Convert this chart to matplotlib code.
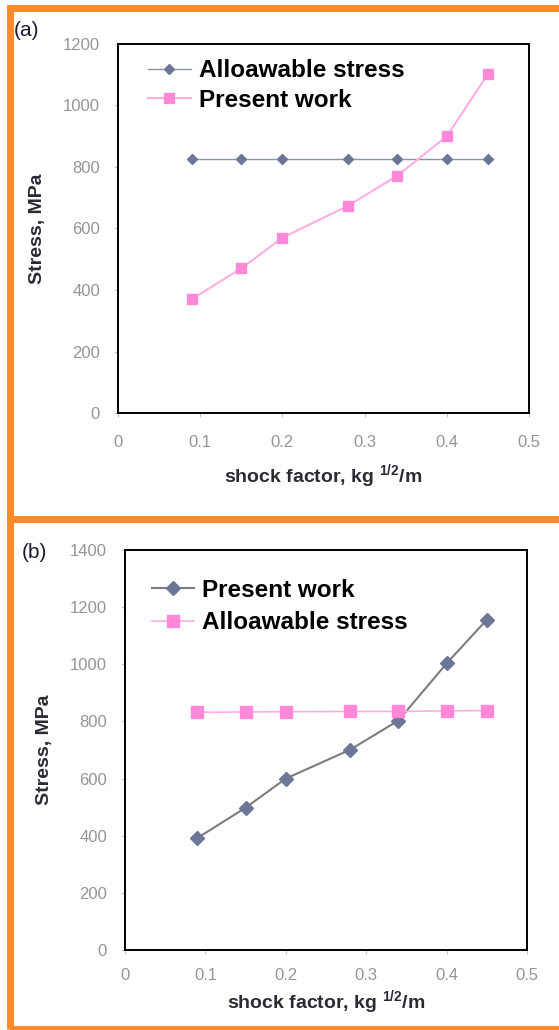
import matplotlib
matplotlib.use("Agg")
import matplotlib.pyplot as plt
from matplotlib.patches import Rectangle

plt.rcParams['font.family'] = ['Liberation Sans', 'DejaVu Sans']
plt.rcParams['mathtext.fontset'] = 'custom'
plt.rcParams['mathtext.rm'] = 'Liberation Sans'
plt.rcParams['mathtext.bf'] = 'Liberation Sans:bold'

# shock factor values (same for both panels)
shock_factor = [0.09, 0.15, 0.2, 0.28, 0.34, 0.4, 0.45]

# panel (a)
a_allowable = [825, 825, 825, 825, 825, 825, 825]
a_present = [371, 470, 570, 674, 772, 900, 1102]

# panel (b)
b_present = [392, 498, 600, 701, 803, 1003, 1156]
b_allowable = [832, 833, 834, 835, 835, 837, 838]

W, H = 559, 1030
fig = plt.figure(figsize=(W / 100, H / 100), dpi=100)

ORANGE = '#ff8a2a'
GRAYBLUE = '#6c7696'
PINK = '#ff88d8'


def px_axes(left, top, right, bottom):
    return fig.add_axes([left / W, 1 - bottom / H, (right - left) / W, (bottom - top) / H])


def style_axes(ax, ymax):
    ax.set_xlim(0, 0.5)
    ax.set_ylim(0, ymax)
    ax.set_xticks([0, 0.1, 0.2, 0.3, 0.4, 0.5])
    ax.set_xticklabels(['0', '0.1', '0.2', '0.3', '0.4', '0.5'])
    ax.set_yticks(range(0, ymax + 1, 200))
    for s in ax.spines.values():
        s.set_color('black')
        s.set_linewidth(1.4)
    ax.tick_params(axis='both', colors='#c8c8c8', labelcolor='#959595',
                   labelsize=12, length=3, width=0.8)
    ax.tick_params(axis='y', pad=10)
    ax.set_xlabel(r'shock factor, kg $^{\mathbf{1/2}}$/m', fontsize=14,
                  fontweight='bold', color='#2a2a35')
    ax.set_ylabel('Stress, MPa', fontsize=14, fontweight='bold', color='#2a2a35')


# orange panel frames
fig.patches.append(Rectangle((10 / W, 1 - 519 / H), 600 / W, 511 / H, transform=fig.transFigure,
                             fill=False, edgecolor=ORANGE, linewidth=5.0))
fig.patches.append(Rectangle((10 / W, 1 - 1029 / H), 600 / W, 510 / H, transform=fig.transFigure,
                             fill=False, edgecolor=ORANGE, linewidth=5.0))

# (a)
ax1 = px_axes(118, 44, 529, 413)
ax1.plot(shock_factor, a_allowable, '-D', color='#8a92aa', lw=1.0, ms=5,
         mfc=GRAYBLUE, mec=GRAYBLUE, label='Alloawable stress')
ax1.plot(shock_factor, a_present, '-s', color='#ffaee2', lw=1.5, ms=7,
         mfc=PINK, mec=PINK, label='Present work')
style_axes(ax1, 1200)
ax1.tick_params(axis='x', pad=13)
ax1.xaxis.set_label_coords(0.5, -0.135)
ax1.yaxis.set_label_coords(-0.175, 0.5)
ax1.legend(loc='upper left', bbox_to_anchor=(0.073, 0.959), frameon=False,
           prop={'weight': 'bold', 'size': 17.5}, handlelength=1.75,
           handletextpad=0.33, labelspacing=0.28, borderpad=0, borderaxespad=0)
fig.text(14 / W, 1 - 30 / H, '(a)', fontsize=15, color='#1c1c3a', va='center')

# (b)
ax2 = px_axes(125, 550, 527, 950)
ax2.plot(shock_factor, b_present, '-D', color='#7c7c84', lw=1.5, ms=7,
         mfc=GRAYBLUE, mec=GRAYBLUE, label='Present work')
ax2.plot(shock_factor, b_allowable, '-s', color='#ffaee2', lw=1.2, ms=8,
         mfc=PINK, mec=PINK, label='Alloawable stress')
style_axes(ax2, 1400)
ax2.tick_params(axis='x', pad=10)
ax2.xaxis.set_label_coords(0.5, -0.095)
ax2.yaxis.set_label_coords(-0.179, 0.5)
ax2.legend(loc='upper left', bbox_to_anchor=(0.067, 0.9275), frameon=False,
           prop={'weight': 'bold', 'size': 17.5}, handlelength=1.75,
           handletextpad=0.33, labelspacing=0.38, borderpad=0, borderaxespad=0)
fig.text(22 / W, 1 - 553 / H, '(b)', fontsize=15, color='#1c1c3a', va='center')

fig.savefig('out.png', dpi=100, facecolor='white')
